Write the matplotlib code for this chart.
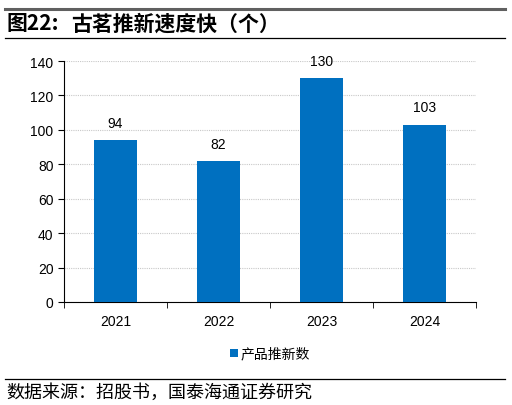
import matplotlib.pyplot as plt
import numpy as np
from matplotlib.lines import Line2D
plt.switch_backend('Agg')

plt.rcParams['font.family'] = ['Liberation Sans', 'Noto Sans CJK SC', 'DejaVu Sans']

years = ['2021', '2022', '2023', '2024']
new_products = [94, 82, 130, 103]
yticks = [0, 20, 40, 60, 80, 100, 120, 140]

fig = plt.figure(figsize=(5.12, 4.06), dpi=100)
W, H = 512, 406

ax = fig.add_axes([64 / W, 1 - 303 / H, (476 - 64) / W, (303 - 62) / H])
x = np.arange(len(years))
bars = ax.bar(x, new_products, width=0.41, color='#0070C0', label='产品推新数', zorder=3)
for xi, v in zip(x, new_products):
    ax.text(xi, v + 6, str(v), ha='center', va='bottom', fontsize=10)

ax.set_xlim(-0.5, 3.5)
ax.set_ylim(0, 140)
ax.set_yticks(yticks)
ax.set_xticks(x)
ax.set_xticklabels(years)
ax.set_xticks(np.arange(-0.5, 4.0, 1.0), minor=True)
ax.tick_params(axis='x', which='major', length=0, pad=9, labelsize=10)
ax.tick_params(axis='x', which='minor', length=4, direction='out')
ax.tick_params(axis='y', length=4, direction='out', labelsize=10)
ax.yaxis.grid(True, linestyle=(0, (1, 1)), color='#c8c8c8', linewidth=0.8, zorder=0)
for s in ['top', 'right']:
    ax.spines[s].set_visible(False)
ax.spines['left'].set_color('black')
ax.spines['bottom'].set_color('black')

ax.legend(loc='center', bbox_to_anchor=(0.5, -0.215), frameon=False,
          handlelength=0.6, handleheight=0.6, handletextpad=0.2,
          prop={'family': ['Noto Sans CJK SC'], 'size': 10})

# header and footer rules
fig.add_artist(Line2D([5 / W, 505 / W], [1 - 10 / H, 1 - 10 / H], color='#606060', linewidth=2.2))
fig.add_artist(Line2D([5 / W, 505 / W], [1 - 39 / H, 1 - 39 / H], color='black', linewidth=0.9))
fig.add_artist(Line2D([5 / W, 505 / W], [1 - 380 / H, 1 - 380 / H], color='black', linewidth=0.9))

fig.text(6 / W, 1 - 24 / H, '图22:', fontsize=15, fontweight='bold',
         va='center', ha='left', family=['Noto Sans CJK SC'])
fig.text(71 / W, 1 - 24 / H, '古茗推新速度快（个）', fontsize=15, fontweight='bold',
         va='center', ha='left', family=['Noto Sans CJK SC'])
fig.text(6 / W, 1 - 393 / H, '数据来源：招股书，国泰海通证券研究', fontsize=13,
         va='center', ha='left', family=['Noto Sans CJK SC'])

plt.savefig('out.png', dpi=100)
